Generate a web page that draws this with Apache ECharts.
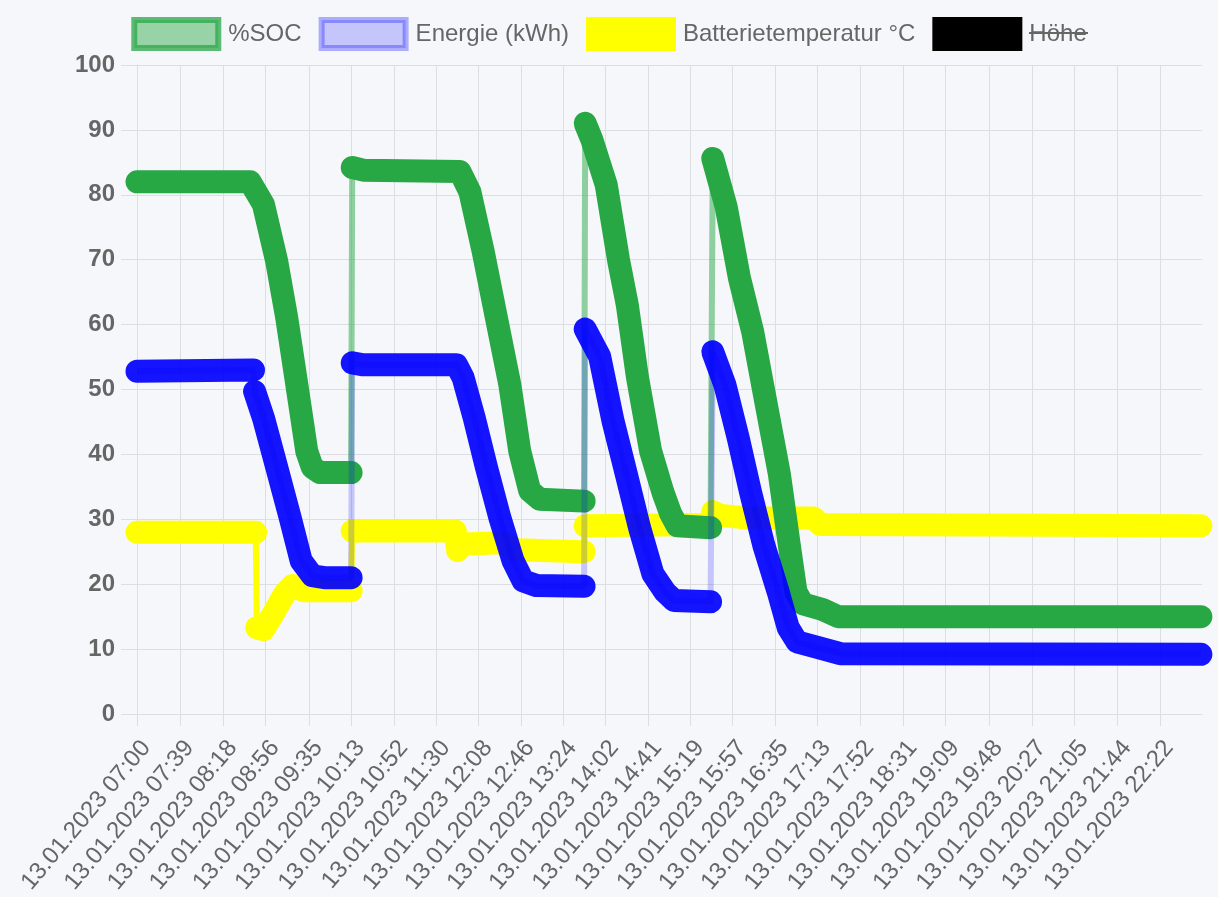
<!DOCTYPE html>
<html>
<head>
<meta charset="utf-8">
<title>SOC / Energie / Temperatur</title>
<script src="https://cdn.jsdelivr.net/npm/echarts@6/dist/echarts.min.js"></script>
<style>
  html, body { margin: 0; padding: 0; background: #f5f7fa; }
  #chart { width: 1218px; height: 897px; }
</style>
</head>
<body>
<div id="chart"></div>
<script>
var tickLabels = [
  "13.01.2023 07:00", "13.01.2023 07:39", "13.01.2023 08:18", "13.01.2023 08:56",
  "13.01.2023 09:35", "13.01.2023 10:13", "13.01.2023 10:52", "13.01.2023 11:30",
  "13.01.2023 12:08", "13.01.2023 12:46", "13.01.2023 13:24", "13.01.2023 14:02",
  "13.01.2023 14:41", "13.01.2023 15:19", "13.01.2023 15:57", "13.01.2023 16:35",
  "13.01.2023 17:13", "13.01.2023 17:52", "13.01.2023 18:31", "13.01.2023 19:09",
  "13.01.2023 19:48", "13.01.2023 20:27", "13.01.2023 21:05", "13.01.2023 21:44",
  "13.01.2023 22:22"
];

// null = Sprung in den Daten (nur dünne Linie)
var socData = [
  ["07:00", 82], ["08:42", 82], ["08:54", 78.5], ["09:06", 69.7], ["09:15", 61],
  ["09:24", 50.8], ["09:33", 40.5], ["09:38", 38], ["09:45", 37.2], ["10:13", 37.2], null,
  ["10:14", 84.2], ["10:24", 83.8], ["11:51", 83.6], ["12:00", 80.5], ["12:12", 71.3],
  ["12:24", 61], ["12:36", 50.8], ["12:45", 40.5], ["12:54", 34.4], ["13:03", 33.1], ["13:43", 32.8], null,
  ["13:44", 91], ["13:50", 88.5], ["14:03", 81.5], ["14:14", 70], ["14:22", 63], ["14:31", 52],
  ["14:43", 40.5], ["14:54", 34.2], ["15:01", 30.9], ["15:07", 29], ["15:37", 28.7], null,
  ["15:39", 85.6], ["15:51", 78.2], ["16:03", 67.2], ["16:15", 58.9], ["16:27", 47.9],
  ["16:39", 37], ["16:48", 26], ["16:54", 18.8], ["17:00", 17], ["17:18", 16.1], ["17:32", 15], ["22:59", 15]
];

var energyData = [
  ["07:00", 52.8], ["08:45", 53], null,
  ["08:46", 49.7], ["08:54", 45.6], ["09:06", 38], ["09:18", 30.3], ["09:28", 23.6],
  ["09:38", 21.3], ["09:49", 21], ["10:13", 21], null,
  ["10:14", 54.1], ["10:24", 53.8], ["11:48", 53.8], ["11:54", 51.8], ["12:04", 45.6],
  ["12:15", 38], ["12:27", 30.3], ["12:39", 23.6], ["12:48", 20.5], ["13:00", 19.8], ["13:43", 19.7], null,
  ["13:44", 59.3], ["13:57", 55.1], ["14:09", 45.2], ["14:21", 37], ["14:33", 28.7],
  ["14:45", 21.6], ["14:56", 18.8], ["15:04", 17.5], ["15:37", 17.3], null,
  ["15:39", 55.8], ["15:50", 50.7], ["16:02", 42.5], ["16:13", 34.2], ["16:25", 26],
  ["16:38", 18.8], ["16:47", 13.3], ["16:55", 11.1], ["17:15", 10.2], ["17:34", 9.3], ["22:59", 9.2]
];

var tempData = [
  ["07:00", 28], ["08:47", 28], null,
  ["08:48", 13.3], ["08:54", 13], ["09:03", 15.5], ["09:13", 18.5], ["09:20", 19.8],
  ["09:30", 19], ["10:13", 19], null,
  ["10:14", 28.2], ["11:47", 28.2], ["11:49", 25.2], ["11:55", 26.2], ["12:30", 26.4],
  ["12:42", 25.3], ["13:43", 25], null,
  ["13:44", 29], ["15:37", 29.2], ["15:39", 31.2], ["15:46", 30.6], ["16:10", 30.2],
  ["17:10", 30.2], ["17:16", 29.2], ["22:59", 29]
];

var gridColor = "#dcdee2";
var textColor = "#666";
var font = "'Liberation Sans', Arial, sans-serif";

function toMinutes(hhmm) {
  var p = hhmm.split(":");
  return (+p[0] - 7) * 60 + (+p[1]);
}
var tickValues = tickLabels.map(function (l) { return toMinutes(l.split(" ")[1]); });

function thickLine(rows) {
  return rows.map(function (r) { return r ? [toMinutes(r[0]), r[1]] : ["-", "-"]; });
}
function thinLine(rows) {
  return rows.filter(Boolean).map(function (r) { return [toMinutes(r[0]), r[1]]; });
}

// dünne Verbindungslinie + dicke Punktspur
function dataset(name, rows, color, thinColor, z, opacity) {
  return [
    {
      name: name, type: "line", data: thinLine(rows), symbol: "none", z: z, silent: true,
      itemStyle: { color: color },
      lineStyle: { color: thinColor, width: 6 }
    },
    {
      name: name, type: "line", data: thickLine(rows), symbol: "none", z: z + 1,
      connectNulls: false,
      itemStyle: { color: color },
      lineStyle: { color: color, width: 23, cap: "round", join: "round", opacity: opacity }
    }
  ];
}

var chart = echarts.init(document.getElementById("chart"));
chart.setOption({
  animation: false,
  backgroundColor: "#f5f7fa",
  textStyle: { fontFamily: font },
  legend: {
    top: 12,
    left: "center",
    icon: "rect",
    itemWidth: 84,
    itemHeight: 28,
    itemGap: 17,
    textStyle: { color: textColor, fontSize: 24, fontFamily: font, padding: [0, 0, 0, 5] },
    data: [
      { name: "%SOC", itemStyle: { color: "rgba(40,167,69,0.45)", borderColor: "rgba(40,167,69,0.75)", borderWidth: 6 } },
      { name: "Energie (kWh)", itemStyle: { color: "rgba(0,0,255,0.2)", borderColor: "rgba(0,0,255,0.3)", borderWidth: 6 } },
      { name: "Batterietemperatur °C", itemStyle: { color: "#ffff00", borderColor: "#ffff00", borderWidth: 6 } },
      { name: "Höhe", itemStyle: { color: "#000", borderColor: "#000", borderWidth: 6 } }
    ]
  },
  graphic: [
    // Höhe ist ausgeblendet -> durchgestrichen
    { type: "line", shape: { x1: 1029, y1: 33, x2: 1088, y2: 33 }, style: { stroke: textColor, lineWidth: 2 }, z: 100 }
  ],
  grid: { left: 137, right: 16, top: 65, bottom: 183 },
  xAxis: {
    type: "value",
    min: 0,
    max: 960,
    axisLine: { lineStyle: { color: gridColor } },
    axisTick: { show: true, length: 12, customValues: tickValues, lineStyle: { color: gridColor } },
    axisLabel: {
      customValues: tickValues,
      rotate: 50,
      margin: 22,
      verticalAlign: "top",
      fontSize: 24,
      color: textColor,
      formatter: function (v) { return tickLabels[tickValues.indexOf(v)] || ""; }
    },
    splitLine: { show: true, lineStyle: { color: gridColor } }
  },
  yAxis: {
    type: "value",
    min: 0,
    max: 100,
    interval: 10,
    axisLine: { show: true, lineStyle: { color: gridColor } },
    axisTick: { show: true, length: 16, lineStyle: { color: gridColor } },
    axisLabel: { fontSize: 24, fontWeight: "bold", color: textColor, margin: 22 },
    splitLine: { lineStyle: { color: gridColor } }
  },
  series: []
    .concat(dataset("Batterietemperatur °C", tempData, "#ffff00", "#ffff00", 2, 1))
    .concat(dataset("%SOC", socData, "#28a745", "rgba(40,167,69,0.5)", 4, 1))
    .concat(dataset("Energie (kWh)", energyData, "#0000ff", "rgba(0,0,255,0.2)", 6, 0.92))
    .concat([{ name: "Höhe", type: "line", data: [], symbol: "none", itemStyle: { color: "#000" } }])
});
</script>
</body>
</html>
